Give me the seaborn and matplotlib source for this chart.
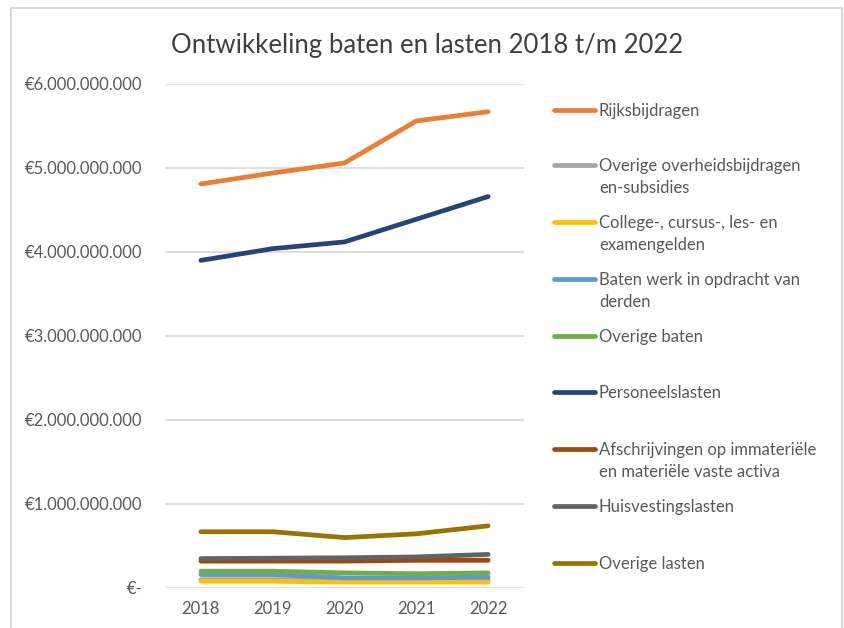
import pandas as pd
import seaborn as sns
import matplotlib.pyplot as plt
from matplotlib.lines import Line2D
from matplotlib.patches import Rectangle
from matplotlib.ticker import FuncFormatter

# Data (in euros)
years = ['2018', '2019', '2020', '2021', '2022']
series_names = [
    'Rijksbijdragen',
    'Overige overheidsbijdragen\nen-subsidies',
    'College-, cursus-, les- en\nexamengelden',
    'Baten werk in opdracht van\nderden',
    'Overige baten',
    'Personeelslasten',
    'Afschrijvingen op immateriële\nen materiële vaste activa',
    'Huisvestingslasten',
    'Overige lasten',
]
rijksbijdragen = [4.81e9, 4.94e9, 5.06e9, 5.56e9, 5.67e9]
overige_overheid = [0.10e9, 0.10e9, 0.09e9, 0.09e9, 0.10e9]
collegegelden = [0.08e9, 0.08e9, 0.07e9, 0.07e9, 0.07e9]
baten_werk = [0.16e9, 0.16e9, 0.12e9, 0.12e9, 0.13e9]
overige_baten = [0.20e9, 0.20e9, 0.18e9, 0.17e9, 0.18e9]
personeelslasten = [3.90e9, 4.04e9, 4.12e9, 4.39e9, 4.66e9]
afschrijvingen = [0.32e9, 0.32e9, 0.32e9, 0.33e9, 0.33e9]
huisvesting = [0.35e9, 0.355e9, 0.36e9, 0.37e9, 0.40e9]
overige_lasten = [0.67e9, 0.67e9, 0.60e9, 0.645e9, 0.74e9]

values = [rijksbijdragen, overige_overheid, collegegelden, baten_werk, overige_baten,
          personeelslasten, afschrijvingen, huisvesting, overige_lasten]
colors = ['#ED7D31', '#A5A5A5', '#FFC000', '#5B9BD5', '#70AD47',
          '#264478', '#9E480E', '#636363', '#997300']

rows = []
for name, vals in zip(series_names, values):
    for i, v in enumerate(vals):
        rows.append({'Serie': name, 'Pos': i, 'Bedrag': v})
df = pd.DataFrame(rows)

sns.set_style('white')
plt.rcParams['font.family'] = ['Lato', 'DejaVu Sans']
text_col = '#595959'

W, H = 844, 628
fig = plt.figure(figsize=(W / 100, H / 100), dpi=100)
ax = fig.add_axes([165 / W, 1 - 588 / H, (524 - 165) / W, (588 - 84) / H])

sns.lineplot(data=df, x='Pos', y='Bedrag', hue='Serie', hue_order=series_names,
             palette=dict(zip(series_names, colors)), linewidth=3.4, sort=False,
             legend=False, ax=ax)
for ln in ax.get_lines():
    ln.set_solid_capstyle('round')

ax.set_xlim(-0.5, 4.5)
ax.set_ylim(0, 6e9)
ax.set_xticks(range(len(years)))
ax.set_xticklabels(years)
ax.set_yticks([i * 1e9 for i in range(7)])


def euro(x, pos):
    if x == 0:
        return '€-'
    return '€' + f'{x:,.0f}'.replace(',', '.')


ax.yaxis.set_major_formatter(FuncFormatter(euro))
ax.tick_params(axis='both', length=0, labelsize=12, labelcolor=text_col)
ax.tick_params(axis='y', pad=16)
ax.tick_params(axis='x', pad=9)
ax.grid(True, axis='y', color='#d9d9d9', linewidth=1.2)
ax.set_axisbelow(True)
for s in ax.spines.values():
    s.set_visible(False)
ax.set_xlabel('')
ax.set_ylabel('')

fig.text(427 / W, 1 - 45 / H, 'Ontwikkeling baten en lasten 2018 t/m 2022',
         ha='center', va='center', fontsize=18.5, color='#404040')

# legend, drawn by hand so the line sits next to the first text line
leg_y = [110, 165, 222, 279, 336, 392, 449, 506, 563]
for name, col, yp in zip(series_names, colors, leg_y):
    yf = 1 - yp / H
    fig.add_artist(Line2D([554 / W, 595 / W], [yf, yf], transform=fig.transFigure,
                          color=col, linewidth=3.4))
    for k, part in enumerate(name.split('\n')):
        fig.text(599 / W, 1 - (yp + 1 + 22 * k) / H, part, ha='left', va='center',
                 fontsize=12, color=text_col)

# chart frame
fig.add_artist(Rectangle((11 / W, -0.02), (842 - 11) / W, 1 - 8 / H + 0.02,
                         transform=fig.transFigure, fill=False,
                         edgecolor='#d0d0d0', linewidth=1.2))

plt.savefig('out.png', dpi=100)
